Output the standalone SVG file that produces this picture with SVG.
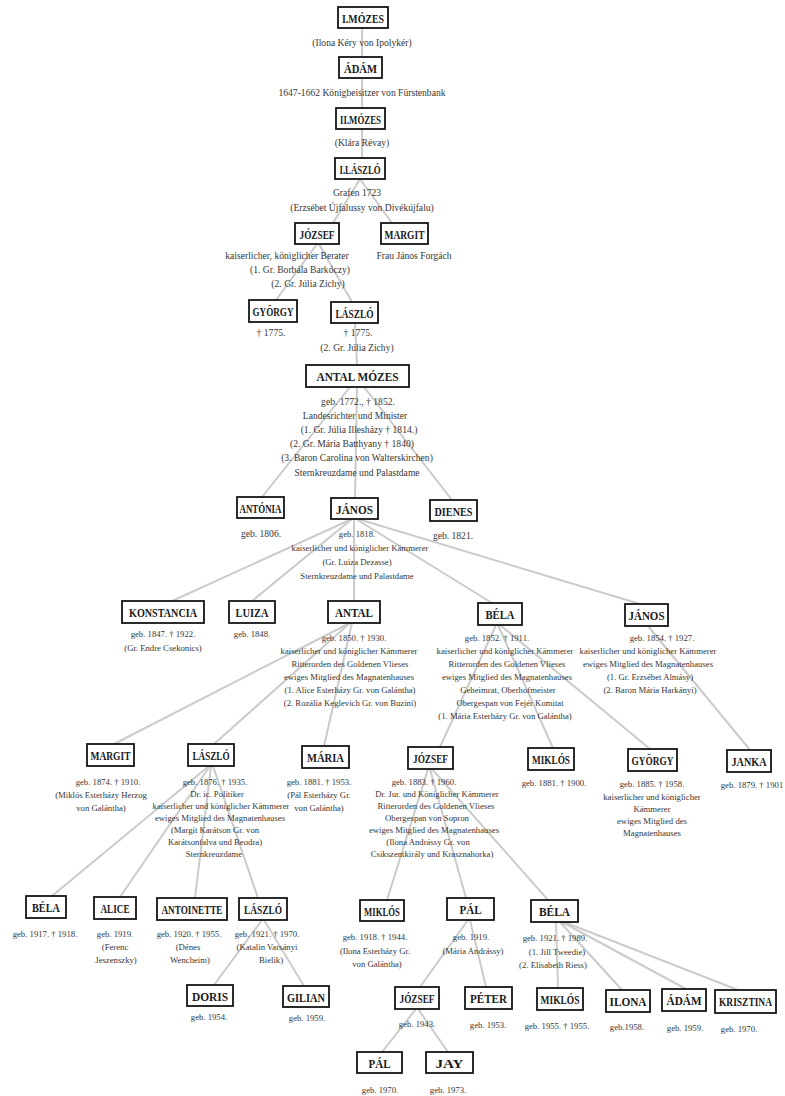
<svg xmlns="http://www.w3.org/2000/svg" width="785" height="1096" viewBox="0 0 785 1096">
<style>
.box{fill:#fff;stroke:#151515;stroke-width:1.8}
.nm{font-family:"Liberation Serif",serif;font-weight:bold;font-size:13px;fill:#1a1a1a;text-anchor:middle}
.t{font-family:"Liberation Serif",serif;font-size:8.7px;fill:#363636;text-anchor:middle}
.t2{font-size:9.6px}
.ln{stroke:#cbcbcb;stroke-width:2;fill:none;stroke-linecap:round}
</style>
<rect width="785" height="1096" fill="#fff"/>
<g id="connectors" class="ln">
<line x1="362" y1="28" x2="362" y2="158"/>
<line x1="360" y1="179" x2="333" y2="223"/>
<line x1="360" y1="179" x2="392" y2="223"/>
<line x1="317" y1="244" x2="276" y2="300"/>
<line x1="319" y1="244" x2="352" y2="302"/>
<line x1="355" y1="323" x2="357" y2="365"/>
<line x1="350" y1="387" x2="262" y2="497"/>
<line x1="357" y1="387" x2="355" y2="498"/>
<line x1="364" y1="387" x2="452" y2="500"/>
<line x1="352" y1="519" x2="172" y2="601"/>
<line x1="352" y1="519" x2="252" y2="601"/>
<line x1="354" y1="519" x2="354" y2="601"/>
<line x1="356" y1="519" x2="492" y2="603"/>
<line x1="358" y1="519" x2="640" y2="604"/>
<line x1="350" y1="623" x2="114" y2="744"/>
<line x1="350" y1="623" x2="214" y2="744"/>
<line x1="352" y1="623" x2="324" y2="746"/>
<line x1="496" y1="625" x2="440" y2="747"/>
<line x1="498" y1="625" x2="553" y2="748"/>
<line x1="500" y1="625" x2="650" y2="749"/>
<line x1="648" y1="626" x2="750" y2="750"/>
<line x1="209" y1="766" x2="52" y2="896"/>
<line x1="210" y1="766" x2="120" y2="897"/>
<line x1="211" y1="766" x2="195" y2="898"/>
<line x1="213" y1="766" x2="258" y2="898"/>
<line x1="428" y1="769" x2="387" y2="900"/>
<line x1="430" y1="769" x2="466" y2="898"/>
<line x1="432" y1="769" x2="548" y2="900"/>
<line x1="262" y1="920" x2="214" y2="985"/>
<line x1="264" y1="920" x2="304" y2="986"/>
<line x1="468" y1="920" x2="420" y2="987"/>
<line x1="470" y1="920" x2="486" y2="987"/>
<line x1="556" y1="922" x2="558" y2="988"/>
<line x1="560" y1="922" x2="622" y2="990"/>
<line x1="562" y1="922" x2="686" y2="989"/>
<line x1="564" y1="922" x2="738" y2="990"/>
<line x1="416" y1="1009" x2="382" y2="1052"/>
<line x1="418" y1="1009" x2="448" y2="1052"/>
</g>

<g id="n-mozes1"><rect class="box" x="338" y="7" width="50" height="21"/><text class="nm" x="363" y="22.5" textLength="42" lengthAdjust="spacingAndGlyphs">I.MÓZES</text>
<text class="t t2" x="362" y="46">(Ilona Kéry von Ipolykér)</text></g>
<g id="n-adam1"><rect class="box" x="339" y="57" width="43" height="21"/><text class="nm" x="360.5" y="72.5" textLength="33" lengthAdjust="spacingAndGlyphs">ÁDÁM</text>
<text class="t t2" x="362" y="96">1647-1662 Königbeisitzer von Fürstenbank</text></g>
<g id="n-mozes2"><rect class="box" x="336" y="108" width="49" height="21"/><text class="nm" x="360.5" y="123.5" textLength="41" lengthAdjust="spacingAndGlyphs">II.MÓZES</text>
<text class="t t2" x="362" y="146">(Klára Révay)</text></g>
<g id="n-laszlo1"><rect class="box" x="335" y="158" width="50" height="21"/><text class="nm" x="360" y="173.5" textLength="41" lengthAdjust="spacingAndGlyphs">I.LÁSZLÓ</text>
<text class="t t2" x="357" y="196">Grafen 1723</text>
<text class="t t2" x="362" y="211">(Erzsébet Újfalussy von Divékújfalu)</text></g>

<g id="n-jozsef1"><rect class="box" x="295" y="223" width="44" height="21"/><text class="nm" x="317" y="238.5" textLength="35" lengthAdjust="spacingAndGlyphs">JÓZSEF</text>
<text class="t t2" x="287" y="259">kaiserlicher, königlicher Berater</text>
<text class="t t2" x="300" y="273">(1. Gr. Borbála Barkóczy)</text>
<text class="t t2" x="308" y="287">(2. Gr. Júlia Zichy)</text></g>
<g id="n-margit1"><rect class="box" x="381" y="223" width="47" height="21"/><text class="nm" x="404.5" y="238.5" textLength="40" lengthAdjust="spacingAndGlyphs">MARGIT</text>
<text class="t t2" x="414" y="259">Frau János Forgách</text></g>

<g id="n-gyorgy1"><rect class="box" x="249" y="300" width="48" height="22"/><text class="nm" x="273" y="315.5" textLength="41" lengthAdjust="spacingAndGlyphs">GYÖRGY</text>
<text class="t t2" x="271" y="336">† 1775.</text></g>
<g id="n-laszlo2"><rect class="box" x="331" y="302" width="47" height="21"/><text class="nm" x="354.5" y="317.5" textLength="38" lengthAdjust="spacingAndGlyphs">LÁSZLÓ</text>
<text class="t t2" x="358" y="336">† 1775.</text>
<text class="t t2" x="357" y="351">(2. Gr. Júlia Zichy)</text></g>

<g id="n-antalmozes"><rect class="box" x="306" y="365" width="103" height="22"/><text class="nm" x="357.5" y="381" textLength="82" lengthAdjust="spacingAndGlyphs">ANTAL MÓZES</text>
<text class="t t2" x="358" y="405">geb. 1772., † 1852.</text>
<text class="t t2" x="355" y="419">Landesrichter und Minister</text>
<text class="t t2" x="359" y="433">(1. Gr. Júlia Illesházy † 1814.)</text>
<text class="t t2" x="352" y="447">(2. Gr. Mária Batthyany † 1840)</text>
<text class="t t2" x="357" y="461">(3. Baron Carolina von Walterskirchen)</text>
<text class="t t2" x="357" y="476">Sternkreuzdame und Palastdame</text></g>

<g id="n-antonia"><rect class="box" x="237" y="497" width="47" height="21"/><text class="nm" x="260.5" y="512.5" textLength="42" lengthAdjust="spacingAndGlyphs">ANTÓNIA</text>
<text class="t t2" x="261" y="537">geb. 1806.</text></g>
<g id="n-janos1"><rect class="box" x="331" y="498" width="47" height="21"/><text class="nm" x="354.5" y="513.5" textLength="37" lengthAdjust="spacingAndGlyphs">JÁNOS</text>
<text class="t" x="357" y="537">geb. 1818.</text>
<text class="t" x="360" y="551">kaiserlicher und königlicher Kämmerer</text>
<text class="t" x="357" y="565">(Gr. Luiza Dezasse)</text>
<text class="t" x="357" y="579">Sternkreuzdame und Palastdame</text></g>
<g id="n-dienes"><rect class="box" x="430" y="500" width="47" height="21"/><text class="nm" x="453.5" y="515.5" textLength="38" lengthAdjust="spacingAndGlyphs">DIENES</text>
<text class="t t2" x="453" y="539">geb. 1821.</text></g>

<g id="n-konstancia"><rect class="box" x="122" y="601" width="82" height="22"/><text class="nm" x="163" y="616.5" textLength="68" lengthAdjust="spacingAndGlyphs">KONSTANCIA</text>
<text class="t" x="163" y="637">geb. 1847. † 1922.</text>
<text class="t" x="163" y="651">(Gr. Endre Csekonics)</text></g>
<g id="n-luiza"><rect class="box" x="229" y="601" width="46" height="22"/><text class="nm" x="252" y="616.5" textLength="33" lengthAdjust="spacingAndGlyphs">LUIZA</text>
<text class="t" x="252" y="637">geb. 1848.</text></g>
<g id="n-antal"><rect class="box" x="328" y="601" width="52" height="22"/><text class="nm" x="354" y="616.5" textLength="38" lengthAdjust="spacingAndGlyphs">ANTAL</text>
<text class="t" x="354" y="641">geb. 1850. † 1930.</text>
<text class="t" x="349" y="654">kaiserlicher und königlicher Kämmerer</text>
<text class="t" x="350" y="667">Ritterorden des Goldenen Vlieses</text>
<text class="t" x="349" y="680">ewiges Mitglied des Magnatenhauses</text>
<text class="t" x="350" y="693">(1. Alice Esterházy Gr. von Galántha)</text>
<text class="t" x="350" y="706">(2. Rozália Keglevich Gr. von Buzini)</text></g>
<g id="n-bela1"><rect class="box" x="478" y="603" width="44" height="22"/><text class="nm" x="500" y="618.5" textLength="29" lengthAdjust="spacingAndGlyphs">BÉLA</text>
<text class="t" x="497" y="641">geb. 1852. † 1911.</text>
<text class="t" x="505" y="654">kaiserlicher und königlicher Kämmerer</text>
<text class="t" x="507" y="667">Ritterorden des Goldenen Vlieses</text>
<text class="t" x="507" y="680">ewiges Mitglied des Magnatenhauses</text>
<text class="t" x="508" y="693">Geheimrat, Oberhofmeister</text>
<text class="t" x="510" y="706">Obergespan von Fejér Komitat</text>
<text class="t" x="505" y="719">(1. Mária Esterházy Gr. von Galántha)</text></g>
<g id="n-janos2"><rect class="box" x="625" y="604" width="43" height="22"/><text class="nm" x="646.5" y="619.5" textLength="36" lengthAdjust="spacingAndGlyphs">JÁNOS</text>
<text class="t" x="662" y="641">geb. 1854. † 1927.</text>
<text class="t" x="648" y="654">kaiserlicher und königlicher Kämmerer</text>
<text class="t" x="648" y="667">ewiges Mitglied des Magnatenhauses</text>
<text class="t" x="650" y="680">(1. Gr. Erzsébet Almásy)</text>
<text class="t" x="650" y="693">(2. Baron Mária Harkányi)</text></g>

<g id="n-margit2"><rect class="box" x="87" y="744" width="47" height="22"/><text class="nm" x="110.5" y="759.5" textLength="40" lengthAdjust="spacingAndGlyphs">MARGIT</text>
<text class="t" x="108" y="785">geb. 1874. † 1910.</text>
<text class="t" x="101" y="798">(Miklós Esterházy Herzog</text>
<text class="t" x="101" y="811">von Galántha)</text></g>
<g id="n-laszlo3"><rect class="box" x="188" y="744" width="46" height="22"/><text class="nm" x="211" y="759.5" textLength="37" lengthAdjust="spacingAndGlyphs">LÁSZLÓ</text>
<text class="t" x="215" y="785">geb. 1876. † 1935.</text>
<text class="t" x="217" y="797">Dr. ic. Politiker</text>
<text class="t" x="221" y="809">kaiserlicher und königlicher Kämmerer</text>
<text class="t" x="220" y="821">ewiges Mitglied des Magnatenhauses</text>
<text class="t" x="215" y="833">(Margit Karátson Gr. von</text>
<text class="t" x="215" y="845">Karátsonfalva und Beodra)</text>
<text class="t" x="214" y="857">Sternkreuzdame</text></g>
<g id="n-maria"><rect class="box" x="302" y="746" width="47" height="22"/><text class="nm" x="325.5" y="761.5" textLength="37" lengthAdjust="spacingAndGlyphs">MÁRIA</text>
<text class="t" x="319" y="785">geb. 1881. † 1953.</text>
<text class="t" x="319" y="798">(Pál Esterházy Gr.</text>
<text class="t" x="319" y="811">von Galántha)</text></g>
<g id="n-jozsef2"><rect class="box" x="408" y="747" width="45" height="22"/><text class="nm" x="430.5" y="762.5" textLength="35" lengthAdjust="spacingAndGlyphs">JÓZSEF</text>
<text class="t" x="424" y="785">geb. 1883. † 1960.</text>
<text class="t" x="437" y="797">Dr. Jur. und Königlicher Kämmerer</text>
<text class="t" x="436" y="809">Ritterorden des Goldenen Vlieses</text>
<text class="t" x="427" y="821">Obergespan von Sopron</text>
<text class="t" x="434" y="833">ewiges Mitglied des Magnatenhauses</text>
<text class="t" x="428" y="845">(Ilona Andrássy Gr. von</text>
<text class="t" x="432" y="857">Csikszentkirály und Krasznahorka)</text></g>
<g id="n-miklos1"><rect class="box" x="528" y="748" width="46" height="22"/><text class="nm" x="551" y="763.5" textLength="38" lengthAdjust="spacingAndGlyphs">MIKLÓS</text>
<text class="t" x="554" y="786">geb. 1881. † 1900.</text></g>
<g id="n-gyorgy2"><rect class="box" x="628" y="749" width="49" height="22"/><text class="nm" x="652.5" y="764.5" textLength="42" lengthAdjust="spacingAndGlyphs">GYÖRGY</text>
<text class="t" x="652" y="787">geb. 1885. † 1958.</text>
<text class="t" x="652" y="800">kaiserlicher und königlicher</text>
<text class="t" x="652" y="812">Kämmerer</text>
<text class="t" x="652" y="824">ewiges Mitglied des</text>
<text class="t" x="652" y="836">Magnatenhauses</text></g>
<g id="n-janka"><rect class="box" x="727" y="750" width="44" height="22"/><text class="nm" x="749" y="765.5" textLength="35" lengthAdjust="spacingAndGlyphs">JANKA</text>
<text class="t" x="752" y="788">geb. 1879. † 1901</text></g>

<g id="n-bela2"><rect class="box" x="26" y="896" width="40" height="22"/><text class="nm" x="46" y="911.5" textLength="28" lengthAdjust="spacingAndGlyphs">BÉLA</text>
<text class="t" x="45" y="937">geb. 1917. † 1918.</text></g>
<g id="n-alice"><rect class="box" x="94" y="897" width="42" height="22"/><text class="nm" x="115" y="912.5" textLength="29" lengthAdjust="spacingAndGlyphs">ALICE</text>
<text class="t" x="115" y="937">geb. 1919.</text>
<text class="t" x="115" y="950">(Ferenc</text>
<text class="t" x="116" y="963">Jeszenszky)</text></g>
<g id="n-antoinette"><rect class="box" x="157" y="898" width="70" height="22"/><text class="nm" x="192" y="913.5" textLength="61" lengthAdjust="spacingAndGlyphs">ANTOINETTE</text>
<text class="t" x="189" y="937">geb. 1920. † 1955.</text>
<text class="t" x="188" y="950">(Dénes</text>
<text class="t" x="190" y="963">Wencheim)</text></g>
<g id="n-laszlo4"><rect class="box" x="239" y="898" width="48" height="22"/><text class="nm" x="263" y="913.5" textLength="38" lengthAdjust="spacingAndGlyphs">LÁSZLÓ</text>
<text class="t" x="267" y="937">geb. 1921. † 1970.</text>
<text class="t" x="267" y="950">(Katalin Varsányi</text>
<text class="t" x="271" y="963">Bielik)</text></g>
<g id="n-miklos2"><rect class="box" x="360" y="900" width="44" height="21"/><text class="nm" x="382" y="915.5" textLength="36" lengthAdjust="spacingAndGlyphs">MIKLÓS</text>
<text class="t" x="375" y="940">geb. 1918. † 1944.</text>
<text class="t" x="375" y="954">(Ilona Esterházy Gr.</text>
<text class="t" x="377" y="967">von Galántha)</text></g>
<g id="n-pal1"><rect class="box" x="447" y="898" width="47" height="22"/><text class="nm" x="470.5" y="913.5" textLength="22" lengthAdjust="spacingAndGlyphs">PÁL</text>
<text class="t" x="471" y="940">geb. 1919.</text>
<text class="t" x="473" y="954">(Mária Andrássy)</text></g>
<g id="n-bela3"><rect class="box" x="531" y="900" width="47" height="22"/><text class="nm" x="554.5" y="915.5" textLength="31" lengthAdjust="spacingAndGlyphs">BÉLA</text>
<text class="t" x="555" y="941">geb. 1921. † 1989.</text>
<text class="t" x="557" y="955">(1. Jill Tweedie)</text>
<text class="t" x="553" y="968">(2. Elisabeth Riess)</text></g>

<g id="n-doris"><rect class="box" x="187" y="985" width="46" height="21"/><text class="nm" x="210" y="1000.5" textLength="36" lengthAdjust="spacingAndGlyphs">DORIS</text>
<text class="t" x="209" y="1020">geb. 1954.</text></g>
<g id="n-gilian"><rect class="box" x="283" y="986" width="46" height="21"/><text class="nm" x="306" y="1001.5" textLength="38" lengthAdjust="spacingAndGlyphs">GILIAN</text>
<text class="t" x="307" y="1021">geb. 1959.</text></g>
<g id="n-jozsef3"><rect class="box" x="395" y="987" width="44" height="22"/><text class="nm" x="417" y="1002.5" textLength="35" lengthAdjust="spacingAndGlyphs">JÓZSEF</text>
<text class="t" x="417" y="1027">geb. 1943.</text></g>
<g id="n-peter"><rect class="box" x="465" y="987" width="47" height="22"/><text class="nm" x="488.5" y="1002.5" textLength="37" lengthAdjust="spacingAndGlyphs">PÉTER</text>
<text class="t" x="488" y="1028">geb. 1953.</text></g>
<g id="n-miklos3"><rect class="box" x="537" y="988" width="46" height="22"/><text class="nm" x="560" y="1003.5" textLength="39" lengthAdjust="spacingAndGlyphs">MIKLÓS</text>
<text class="t" x="557" y="1029">geb. 1955. † 1955.</text></g>
<g id="n-ilona"><rect class="box" x="606" y="990" width="44" height="22"/><text class="nm" x="628" y="1005.5" textLength="37" lengthAdjust="spacingAndGlyphs">ILONA</text>
<text class="t" x="627" y="1030">geb.1958.</text></g>
<g id="n-adam2"><rect class="box" x="662" y="989" width="44" height="22"/><text class="nm" x="684" y="1004.5" textLength="35" lengthAdjust="spacingAndGlyphs">ÁDÁM</text>
<text class="t" x="685" y="1031">geb. 1959.</text></g>
<g id="n-krisztina"><rect class="box" x="715" y="990" width="61" height="23"/><text class="nm" x="745.5" y="1006" font-size="12" style="font-size:12px" textLength="53" lengthAdjust="spacingAndGlyphs">KRISZTINA</text>
<text class="t" x="739" y="1032">geb. 1970.</text></g>

<g id="n-pal2"><rect class="box" x="357" y="1052" width="45" height="21"/><text class="nm" x="379.5" y="1067.5" textLength="22" lengthAdjust="spacingAndGlyphs">PÁL</text>
<text class="t" x="380" y="1093">geb. 1970.</text></g>
<g id="n-jay"><rect class="box" x="426" y="1052" width="47" height="21"/><text class="nm" x="449.5" y="1067.5" textLength="28" lengthAdjust="spacingAndGlyphs">JAY</text>
<text class="t" x="448" y="1093">geb. 1973.</text></g>
</svg>
